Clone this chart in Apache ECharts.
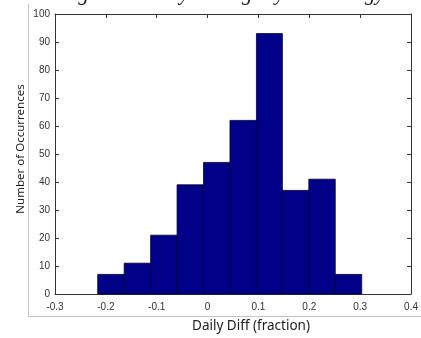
<!DOCTYPE html>
<html>
<head>
<meta charset="utf-8">
<script src="https://cdn.jsdelivr.net/npm/echarts@6/dist/echarts.min.js"></script>
<style>
  html, body { margin: 0; padding: 0; background: #fff; }
  #main { width: 421px; height: 338px; }
</style>
</head>
<body>
<div id="main"></div>
<script>
// histogram bins (edges) and counts
var binEdges = [-0.216, -0.164, -0.112, -0.060, -0.008, 0.044, 0.096, 0.147, 0.199, 0.251, 0.303];
var counts = [7, 11, 21, 39, 47, 62, 93, 37, 41, 7];
var xTicks = [-0.3, -0.2, -0.1, 0, 0.1, 0.2, 0.3, 0.4];
var yTicks = [0, 10, 20, 30, 40, 50, 60, 70, 80, 90, 100];

var bins = counts.map(function (c, i) {
  return [binEdges[i], binEdges[i + 1], c];
});

var labelFont = { fontSize: 10, color: "#333", fontFamily: "Liberation Sans" };
var boxLine = { show: true, onZero: false, lineStyle: { color: "#333", width: 1 } };
var tick = { show: true, inside: true, length: 4, lineStyle: { color: "#333" } };

var myChart = echarts.init(document.getElementById("main"));
myChart.setOption({
  animation: false,
  grid: { left: 55, top: 14, right: 4, bottom: 39 },
  graphic: [
    {
      type: "text",
      x: 222,
      y: 5,
      style: {
        text: "Figure 6. Daily average system energy",
        font: "italic 21px 'Liberation Serif'",
        fill: "#222",
        textAlign: "center",
        textVerticalAlign: "bottom"
      }
    },
    {
      type: "polyline",
      shape: { points: [[28.5, 4], [28.5, 316.5], [421, 316.5]] },
      style: { stroke: "#c4c4c4", fill: null, lineWidth: 1 }
    }
  ],
  xAxis: [
    {
      type: "value",
      min: xTicks[0],
      max: xTicks[xTicks.length - 1],
      interval: 0.1,
      name: "Daily Diff (fraction)",
      nameLocation: "middle",
      nameMoveOverlap: false,
      nameGap: 25,
      nameTextStyle: { fontSize: 13.5, color: "#222", fontFamily: "Noto Sans", padding: [0, 0, 0, 36] },
      axisLine: boxLine,
      axisTick: tick,
      splitLine: { show: false },
      axisLabel: Object.assign({ margin: 8, formatter: function (v) { return String(Math.round(v * 10) / 10); } }, labelFont)
    },
    {
      type: "value",
      position: "top",
      min: xTicks[0],
      max: xTicks[xTicks.length - 1],
      interval: 0.1,
      axisLine: boxLine,
      axisTick: tick,
      axisLabel: { show: false },
      splitLine: { show: false }
    }
  ],
  yAxis: [
    {
      type: "value",
      min: yTicks[0],
      max: yTicks[yTicks.length - 1],
      interval: 10,
      name: "Number of Occurrences",
      nameLocation: "middle",
      nameMoveOverlap: false,
      nameGap: 28,
      nameTextStyle: { fontSize: 11.5, color: "#222", fontFamily: "Noto Sans", padding: [0, 0, 0, 10] },
      axisLine: boxLine,
      axisTick: tick,
      splitLine: { show: false },
      axisLabel: Object.assign({ margin: 5 }, labelFont)
    },
    {
      type: "value",
      position: "right",
      min: yTicks[0],
      max: yTicks[yTicks.length - 1],
      interval: 10,
      axisLine: boxLine,
      axisTick: tick,
      axisLabel: { show: false },
      splitLine: { show: false }
    }
  ],
  series: [
    {
      type: "custom",
      xAxisIndex: 0,
      yAxisIndex: 0,
      encode: { x: [0, 1], y: 2 },
      data: bins,
      renderItem: function (params, api) {
        var p0 = api.coord([api.value(0), api.value(2)]);
        var p1 = api.coord([api.value(1), 0]);
        return {
          type: "rect",
          shape: { x: p0[0], y: p0[1], width: p1[0] - p0[0], height: p1[1] - p0[1] },
          style: { fill: "#000088", stroke: "#000033", lineWidth: 0.8 }
        };
      }
    }
  ]
});
</script>
</body>
</html>
